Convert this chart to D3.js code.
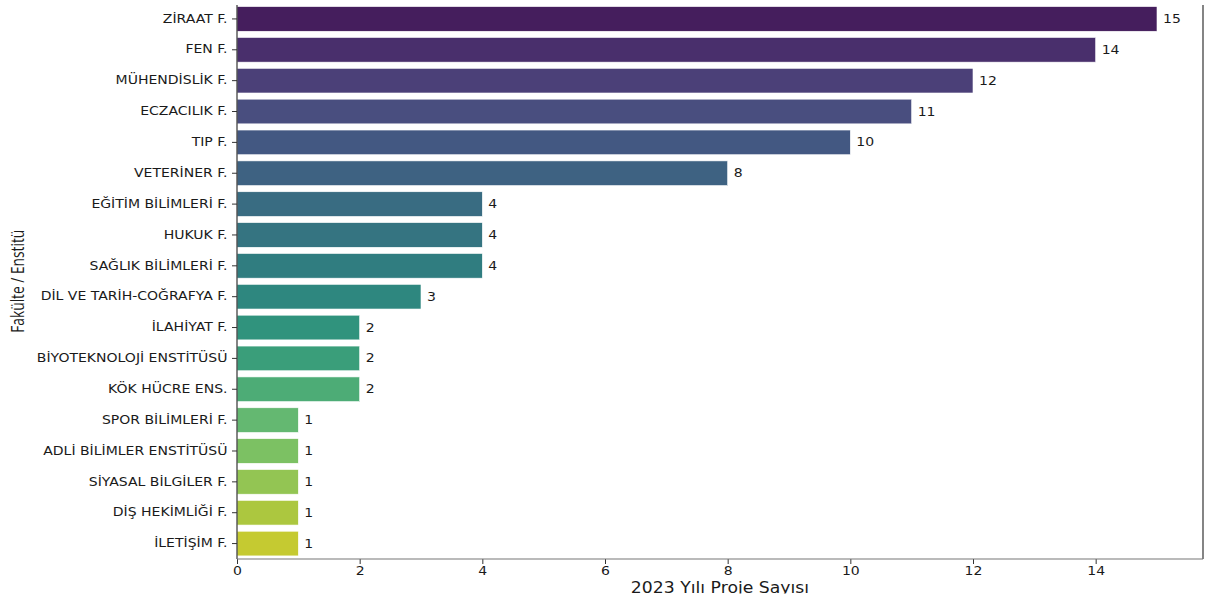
<!DOCTYPE html>
<html><head><meta charset="utf-8">
<script src="https://cdn.jsdelivr.net/npm/d3@7"></script>
<style>
html,body{margin:0;padding:0;background:#fff;}
svg{display:block;}
text{font-family:"DejaVu Sans",sans-serif;fill:#1a1a1a;}
</style></head>
<body>
<svg id="chart" width="1208" height="599"></svg>
<script>
const categories = ["ZİRAAT F.","FEN F.","MÜHENDİSLİK F.","ECZACILIK F.","TIP F.","VETERİNER F.","EĞİTİM BİLİMLERİ F.","HUKUK F.","SAĞLIK BİLİMLERİ F.","DİL VE TARİH-COĞRAFYA F.","İLAHİYAT F.","BİYOTEKNOLOJİ ENSTİTÜSÜ","KÖK HÜCRE ENS.","SPOR BİLİMLERİ F.","ADLİ BİLİMLER ENSTİTÜSÜ","SİYASAL BİLGİLER F.","DİŞ HEKİMLİĞİ F.","İLETİŞİM F."];
const values = [15,14,12,11,10,8,4,4,4,3,2,2,2,1,1,1,1,1];
const xTicks = [0,2,4,6,8,10,12,14];
const xLabel = "2023 Yılı Proje Sayısı";
const yLabel = "Fakülte / Enstitü";

(function(){
const svg = d3.select("#chart");
const mLeft = 237, mRight = 1203, mTop = 3.5, mBottom = 559;
const K = 1.22; // horizontal stretch of glyphs seen in reference

const x = d3.scaleLinear().domain([0, 15.75]).range([mLeft, mRight]);
const y = d3.scaleBand().domain(categories).range([mTop, mBottom]).paddingInner(0.2).paddingOuter(0.1);

const n = categories.length;
const colors = categories.map((c, i) => {
  const h = d3.hsl(d3.interpolateViridis((i + 1) / (n + 1)));
  h.s *= 0.75;
  return h.formatHex();
});

svg.append("g").selectAll("rect").data(categories).join("rect")
  .attr("x", x(0))
  .attr("y", d => y(d))
  .attr("width", (d, i) => x(values[i]) - x(0))
  .attr("height", y.bandwidth())
  .attr("fill", (d, i) => colors[i])
  .attr("stroke", "#fff").attr("stroke-width", 0.6);

svg.append("g").selectAll("text").data(categories).join("text")
  .attr("x", (d, i) => (x(values[i]) + 6) / K)
  .attr("y", d => y(d) + y.bandwidth() / 2)
  .attr("transform", `scale(${K},1)`)
  .attr("dy", "0.35em")
  .attr("font-size", 11.5)
  .text((d, i) => values[i]);

const yAxis = svg.append("g").attr("transform", `translate(${mLeft},0)`)
  .call(d3.axisLeft(y).tickSize(5).tickPadding(4));
yAxis.selectAll("text").attr("font-size", 11.5).style("font-family", "DejaVu Sans").attr("fill", "#1a1a1a")
  .attr("x", -9.5 / K).attr("transform", `scale(${K},1)`);
yAxis.select(".domain").remove();
yAxis.selectAll("line").attr("stroke", "#333");

const xAxis = svg.append("g").attr("transform", `translate(0,${mBottom})`)
  .call(d3.axisBottom(x).tickValues(xTicks).tickSize(5).tickPadding(3));
xAxis.selectAll("text").attr("font-size", 11.5).style("font-family", "DejaVu Sans").attr("fill", "#1a1a1a")
  .attr("transform", `scale(${K},1)`);
xAxis.select(".domain").remove();
xAxis.selectAll("line").attr("stroke", "#333");

svg.append("line").attr("x1", mLeft).attr("x2", mLeft).attr("y1", 5).attr("y2", mBottom).attr("stroke", "#333").attr("stroke-width", 1.2);
svg.append("line").attr("x1", mRight).attr("x2", mRight).attr("y1", 5).attr("y2", mBottom).attr("stroke", "#333").attr("stroke-width", 1.2);
svg.append("line").attr("x1", mLeft).attr("x2", mRight).attr("y1", mBottom).attr("y2", mBottom).attr("stroke", "#777").attr("stroke-width", 1.2);

svg.append("clipPath").attr("id", "xlclip").append("rect").attr("x", 0).attr("y", 0).attr("width", 1208).attr("height", 593.5);
svg.append("g").attr("clip-path", "url(#xlclip)").append("text")
  .attr("x", (mLeft + mRight) / 2 / 1.15).attr("y", 593)
  .attr("transform", "scale(1.15,1)")
  .attr("text-anchor", "middle").attr("font-size", 15)
  .text(xLabel);

svg.append("text")
  .attr("transform", `translate(24,${(mTop + mBottom) / 2}) scale(1.2,1) rotate(-90)`)
  .attr("text-anchor", "middle")
  .attr("font-size", 15)
  .style("font-family", "'Open Sans', sans-serif")
  .attr("textLength", 103).attr("lengthAdjust", "spacingAndGlyphs")
  .text(yLabel);
})();
</script>
</body></html>
